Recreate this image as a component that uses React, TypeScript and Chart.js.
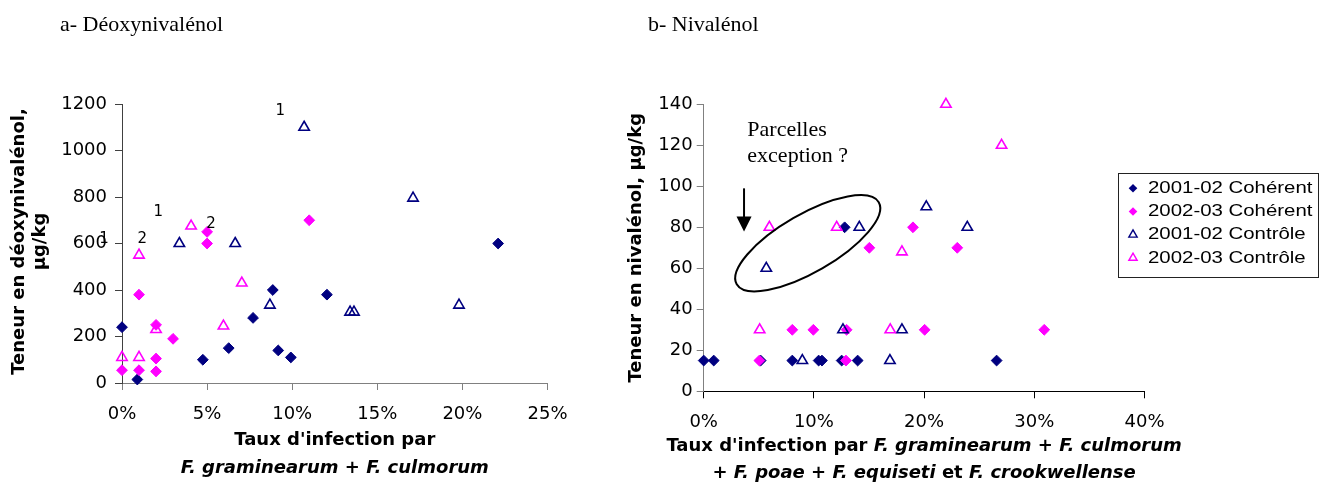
import React, { useEffect, useRef } from "react";
import { Chart, registerables } from "chart.js";
Chart.register(...registerables);

// ---------- Shared ----------
const seriesNames = ["2001-02 Cohérent", "2002-03 Cohérent", "2001-02 Contrôle", "2002-03 Contrôle"];
const seriesColors = ["#000080", "#FF00FF", "#000080", "#FF00FF"];
const seriesFilled = [true, true, false, false];

// ---------- Panel a : Déoxynivalénol ----------
const aXTickLabels = ["0%", "5%", "10%", "15%", "20%", "25%"];
const aYTickLabels = ["0", "200", "400", "600", "800", "1000", "1200"];
const aCoh0102X = [0, 0.009, 0.0475, 0.0627, 0.077, 0.0886, 0.0918, 0.0992, 0.1204, 0.221];
const aCoh0102Y = [240, 15, 100, 150, 280, 400, 140, 110, 380, 600];
const aCoh0203X = [0, 0.01, 0.01, 0.02, 0.02, 0.02, 0.03, 0.05, 0.05, 0.11];
const aCoh0203Y = [55, 380, 55, 250, 105, 50, 190, 650, 600, 700];
const aCtl0102X = [0.0337, 0.0665, 0.0869, 0.107, 0.134, 0.1363, 0.171, 0.198];
const aCtl0102Y = [600, 600, 335, 1100, 305, 305, 795, 335];
const aCtl0203X = [0, 0.01, 0.01, 0.02, 0.0406, 0.0596, 0.0704];
const aCtl0203Y = [110, 550, 110, 230, 675, 245, 430];
const aLabelText = ["1", "1", "2", "2", "1"];
const aLabelX = [0.093, 0.0213, 0.0119, 0.0523, -0.0106];
const aLabelY = [1170, 737, 618, 683, 619];

// ---------- Panel b : Nivalénol ----------
const bXTickLabels = ["0%", "10%", "20%", "30%", "40%"];
const bYTickLabels = ["0", "20", "40", "60", "80", "100", "120", "140"];
const bCoh0102X = [0, 0.0091, 0.0517, 0.0804, 0.1043, 0.1073, 0.1252, 0.1397, 0.1279, 0.2658];
const bCoh0102Y = [15, 15, 15, 15, 15, 15, 15, 15, 80, 15];
const bCoh0203X = [0.0505, 0.1291, 0.0804, 0.0995, 0.1297, 0.1503, 0.1899, 0.2005, 0.2301, 0.309];
const bCoh0203Y = [15, 15, 30, 30, 30, 70, 80, 30, 70, 30];
const bCtl0102X = [0.0568, 0.1412, 0.202, 0.2392, 0.1264, 0.1799, 0.0895, 0.169];
const bCtl0102Y = [60, 80, 90, 80, 30, 30, 15, 15];
const bCtl0203X = [0.0596, 0.1207, 0.2198, 0.2703, 0.1799, 0.0508, 0.1693];
const bCtl0203Y = [80, 80, 140, 120, 68, 30, 30];
const bNoteLines = ["Parcelles", "exception ?"];
const bNoteX = 0.0396;
const bNoteY = [124.5, 112.0];
const bEllipseCenter = { x: 0.0944, y: 72.2 };
const bArrow = { x: 0.0366, yFrom: 99, yTo: 77.9 };

// ---------- fonts ----------
const SANS = '"DejaVu Sans", "Liberation Sans", Arial, sans-serif';
const ARIAL = '"Liberation Sans", Arial, sans-serif';
const SERIF = '"Liberation Serif", "Times New Roman", serif';
const B = `bold 18px ${SANS}`;
const BI = `italic bold 18px ${SANS}`;

type Run = { t: string; f: string };
function drawRuns(
  ctx: CanvasRenderingContext2D,
  runs: Run[],
  x: number,
  y: number,
  o: { align?: "left" | "center" | "right"; baseline?: CanvasTextBaseline; rot?: number; sx?: number } = {}
) {
  const align = o.align || "left";
  ctx.save();
  ctx.translate(x, y);
  if (o.rot) ctx.rotate(o.rot);
  ctx.scale(o.sx || 1, 1);
  ctx.textBaseline = o.baseline || "middle";
  ctx.textAlign = "left";
  ctx.fillStyle = "#000";
  const ws = runs.map((r) => {
    ctx.font = r.f;
    return ctx.measureText(r.t).width;
  });
  const total = ws.reduce((a, b) => a + b, 0);
  let cx = align === "center" ? -total / 2 : align === "right" ? -total : 0;
  runs.forEach((r, i) => {
    ctx.font = r.f;
    ctx.fillText(r.t, cx, 0);
    cx += ws[i];
  });
  ctx.restore();
}

function makeDatasets(xs: number[][], ys: number[][]) {
  return xs.map((xa, i) => ({
    label: seriesNames[i],
    data: xa.map((x, j) => ({ x, y: ys[i][j] })),
    showLine: false,
    clip: false,
    pointStyle: seriesFilled[i] ? "rectRot" : "triangle",
    pointRadius: seriesFilled[i] ? 5.4 : 6,
    pointBackgroundColor: seriesFilled[i] ? seriesColors[i] : "rgba(0,0,0,0)",
    pointBorderColor: seriesColors[i],
    pointBorderWidth: seriesFilled[i] ? 1 : 1.6,
    order: 4 - i,
  }));
}

function axis(
  min: number,
  max: number,
  step: number,
  labels: string[],
  borderColor: string,
  size: { w?: number; h?: number },
  padding: number
) {
  return {
    type: "linear" as const,
    min,
    max,
    ticks: {
      stepSize: step,
      autoSkip: false,
      maxRotation: 0,
      padding,
      color: "#000",
      font: { family: SANS, size: 18 },
      callback: (_v: any, i: number) => labels[i],
    },
    grid: { drawOnChartArea: false, drawTicks: true, tickLength: 7, tickColor: borderColor },
    border: { display: true, color: borderColor, width: 1 },
    afterFit: (s: any) => {
      if (size.w !== undefined) s.width = size.w;
      if (size.h !== undefined) s.height = size.h;
    },
  };
}

// Left chart: canvas 0..660 ; plot area 122..547.5 x 104..383
const leftDeco = {
  id: "leftDeco",
  afterDraw(chart: any) {
    const ctx = chart.ctx as CanvasRenderingContext2D;
    const { left, right, top, bottom } = chart.chartArea;
    const xs = chart.scales.x;
    const ys = chart.scales.y;
    drawRuns(ctx, [{ t: "a- Déoxynivalénol", f: `22px ${SERIF}` }], 60, 31, { baseline: "alphabetic" });
    const cy = (top + bottom) / 2 - 2;
    drawRuns(ctx, [{ t: "Teneur en déoxynivalénol,", f: B }], 19, cy, { align: "center", rot: -Math.PI / 2 });
    drawRuns(ctx, [{ t: "µg/kg", f: B }], 40, cy, { align: "center", rot: -Math.PI / 2 });
    const cx = (left + right) / 2;
    drawRuns(ctx, [{ t: "Taux d'infection par", f: B }], cx, 440, { align: "center" });
    drawRuns(ctx, [{ t: "F. graminearum + F. culmorum", f: BI }], cx, 468, { align: "center" });
    aLabelText.forEach((t, i) => {
      drawRuns(ctx, [{ t, f: `15px ${SANS}` }], xs.getPixelForValue(aLabelX[i]), ys.getPixelForValue(aLabelY[i]), {
        align: "center",
      });
    });
  },
};

const rightDeco = {
  id: "rightDeco",
  afterDraw(chart: any) {
    const ctx = chart.ctx as CanvasRenderingContext2D;
    const { left, right, top, bottom } = chart.chartArea;
    const xs = chart.scales.x;
    const ys = chart.scales.y;
    drawRuns(ctx, [{ t: "b- Nivalénol", f: `22px ${SERIF}` }], 48, 31, { baseline: "alphabetic" });
    drawRuns(ctx, [{ t: "Teneur en nivalénol, µg/kg", f: B }], 36, (top + bottom) / 2, {
      align: "center",
      rot: -Math.PI / 2,
    });
    const cx = (left + right) / 2;
    drawRuns(
      ctx,
      [
        { t: "Taux d'infection par ", f: B },
        { t: "F. graminearum", f: BI },
        { t: " + ", f: B },
        { t: "F. culmorum", f: BI },
      ],
      cx,
      446,
      { align: "center" }
    );
    drawRuns(
      ctx,
      [
        { t: "+ ", f: B },
        { t: "F. poae", f: BI },
        { t: " + ", f: B },
        { t: "F. equiseti", f: BI },
        { t: " et ", f: B },
        { t: "F. crookwellense", f: BI },
      ],
      cx,
      473,
      { align: "center" }
    );
    // note text
    bNoteLines.forEach((t, i) => {
      drawRuns(ctx, [{ t, f: `22px ${SERIF}` }], xs.getPixelForValue(bNoteX), ys.getPixelForValue(bNoteY[i]), {
        baseline: "alphabetic",
      });
    });
    // ellipse
    ctx.save();
    ctx.strokeStyle = "#000";
    ctx.lineWidth = 2;
    ctx.beginPath();
    ctx.ellipse(
      xs.getPixelForValue(bEllipseCenter.x),
      ys.getPixelForValue(bEllipseCenter.y),
      82,
      29,
      -Math.PI / 6,
      0,
      Math.PI * 2
    );
    ctx.stroke();
    // arrow
    const ax = xs.getPixelForValue(bArrow.x);
    const ay0 = ys.getPixelForValue(bArrow.yFrom);
    const ay1 = ys.getPixelForValue(bArrow.yTo);
    ctx.beginPath();
    ctx.moveTo(ax, ay0);
    ctx.lineTo(ax, ay1 - 12);
    ctx.stroke();
    ctx.fillStyle = "#000";
    ctx.beginPath();
    ctx.moveTo(ax - 7.5, ay1 - 15);
    ctx.lineTo(ax + 7.5, ay1 - 15);
    ctx.lineTo(ax, ay1);
    ctx.closePath();
    ctx.fill();
    ctx.restore();

    // legend
    const lx = 518, ly = 173, lw = 200, lh = 104;
    ctx.save();
    ctx.strokeStyle = "#222";
    ctx.lineWidth = 1;
    ctx.strokeRect(lx + 0.5, ly + 0.5, lw, lh);
    seriesNames.forEach((name, i) => {
      const y = 188.3 + i * 23.2;
      const mx = 533;
      ctx.beginPath();
      if (seriesFilled[i]) {
        const r = 4.3;
        ctx.moveTo(mx - r, y);
        ctx.lineTo(mx, y - r);
        ctx.lineTo(mx + r, y);
        ctx.lineTo(mx, y + r);
        ctx.closePath();
        ctx.fillStyle = seriesColors[i];
        ctx.fill();
      } else {
        const r = 4.8;
        ctx.moveTo(mx, y - r);
        ctx.lineTo(mx + 0.866 * r, y + r / 2);
        ctx.lineTo(mx - 0.866 * r, y + r / 2);
        ctx.closePath();
        ctx.strokeStyle = seriesColors[i];
        ctx.lineWidth = 1.4;
        ctx.stroke();
      }
      drawRuns(ctx, [{ t: name, f: `17px ${ARIAL}` }], 548, y, { sx: 1.2 });
    });
    ctx.restore();
  },
};

export default function App() {
  const leftRef = useRef<HTMLCanvasElement>(null);
  const rightRef = useRef<HTMLCanvasElement>(null);

  useEffect(() => {
    const left = new Chart(leftRef.current as HTMLCanvasElement, {
      type: "scatter",
      data: {
        datasets: makeDatasets([aCoh0102X, aCoh0203X, aCtl0102X, aCtl0203X], [aCoh0102Y, aCoh0203Y, aCtl0102Y, aCtl0203Y]) as any,
      },
      options: {
        responsive: false,
        animation: false,
        events: [],
        layout: { padding: { left: 0, top: 104, right: 112.5, bottom: 47 } },
        plugins: { legend: { display: false }, tooltip: { enabled: false } },
        scales: {
          x: axis(0, 0.25, 0.05, aXTickLabels, "#808080", { h: 60 }, 14) as any,
          y: axis(0, 1200, 200, aYTickLabels, "#404040", { w: 122 }, 8) as any,
        },
      },
      plugins: [leftDeco],
    });
    const right = new Chart(rightRef.current as HTMLCanvasElement, {
      type: "scatter",
      data: {
        datasets: makeDatasets([bCoh0102X, bCoh0203X, bCtl0102X, bCtl0203X], [bCoh0102Y, bCoh0203Y, bCtl0102Y, bCtl0203Y]) as any,
      },
      options: {
        responsive: false,
        animation: false,
        events: [],
        layout: { padding: { left: 0, top: 104.3, right: 187.5, bottom: 38.7 } },
        plugins: { legend: { display: false }, tooltip: { enabled: false } },
        scales: {
          x: axis(0, 0.4, 0.1, bXTickLabels, "#000000", { h: 60 }, 13) as any,
          y: axis(0, 140, 20, bYTickLabels, "#808080", { w: 103.7 }, 4) as any,
        },
      },
      plugins: [rightDeco],
    });
    return () => {
      left.destroy();
      right.destroy();
    };
  }, []);

  return (
    <div style={{ position: "fixed", left: 0, top: 0, width: 1332, height: 490, background: "#fff", overflow: "hidden" }}>
      <canvas ref={leftRef} width={660} height={490} style={{ position: "absolute", left: 0, top: 0, display: "block" }} />
      <canvas ref={rightRef} width={732} height={490} style={{ position: "absolute", left: 600, top: 0, display: "block" }} />
    </div>
  );
}
